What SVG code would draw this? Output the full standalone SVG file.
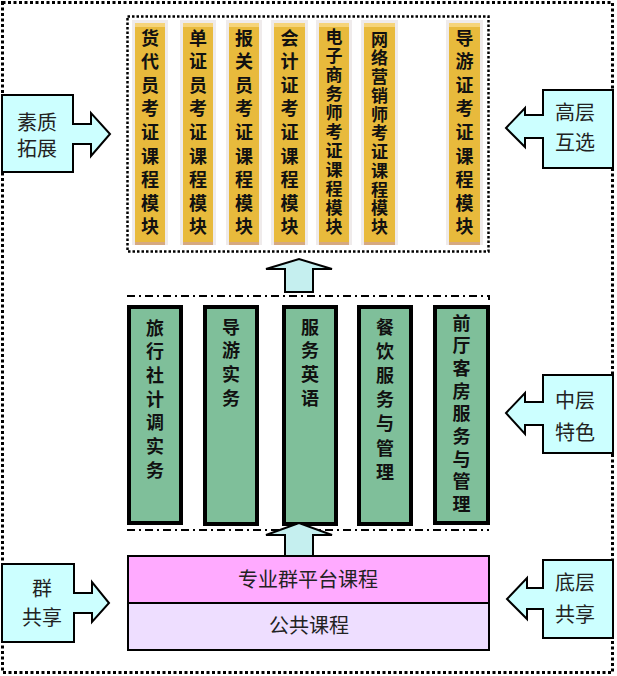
<svg xmlns="http://www.w3.org/2000/svg" width="617" height="676" viewBox="0 0 617 676">
<style>
.bg{fill:#E8BA3C}
.fr{fill:#EFEBEB}
.tp{fill:#F6D47A}
.bt{fill:#D6A981}
.yt{font-family:"Noto Sans CJK SC","Noto Sans CJK JP",sans-serif;font-size:18px;font-weight:700;fill:#111;text-anchor:middle}
.yt.s{font-size:17px}
.gb{fill:#7FBF9A;stroke:#000;stroke-width:4}
.ct{font-family:"Noto Sans CJK SC","Noto Sans CJK JP",sans-serif;font-size:20px;fill:#222;text-anchor:middle}
.co{fill:#CCFFFF;stroke:#000;stroke-width:2;stroke-linejoin:miter}
.ua{fill:#C5EFEF;stroke:#000;stroke-width:2}
.dd{fill:none;stroke:#000;stroke-width:2;stroke-dasharray:8 4 2 4}
</style>
<rect x="0" y="0" width="617" height="676" fill="#fff"/>
<rect id="outer" x="2.5" y="2.5" width="610" height="670" fill="none" stroke="#000" stroke-width="3" stroke-dasharray="3 2.5"/>

<g id="top-layer">
<rect x="127.5" y="16.5" width="361" height="235" fill="none" stroke="#000" stroke-width="2.5" stroke-dasharray="2.5 2"/>
<g id="m1"><rect class="fr" x="132" y="20" width="36" height="225"/><rect class="bg" x="135" y="23" width="30" height="219"/><rect class="tp" x="135" y="23" width="30" height="4"/><rect class="bt" x="135" y="242" width="30" height="3"/>
<text class="yt"><tspan x="150" y="44.5">货</tspan><tspan x="150" y="68.1">代</tspan><tspan x="150" y="91.7">员</tspan><tspan x="150" y="115.3">考</tspan><tspan x="150" y="138.9">证</tspan><tspan x="150" y="162.5">课</tspan><tspan x="150" y="186.1">程</tspan><tspan x="150" y="209.7">模</tspan><tspan x="150" y="233.3">块</tspan></text></g>
<g id="m2"><rect class="fr" x="180" y="20" width="36" height="225"/><rect class="bg" x="183" y="23" width="30" height="219"/><rect class="tp" x="183" y="23" width="30" height="4"/><rect class="bt" x="183" y="242" width="30" height="3"/>
<text class="yt"><tspan x="198" y="44.5">单</tspan><tspan x="198" y="68.1">证</tspan><tspan x="198" y="91.7">员</tspan><tspan x="198" y="115.3">考</tspan><tspan x="198" y="138.9">证</tspan><tspan x="198" y="162.5">课</tspan><tspan x="198" y="186.1">程</tspan><tspan x="198" y="209.7">模</tspan><tspan x="198" y="233.3">块</tspan></text></g>
<g id="m3"><rect class="fr" x="226" y="20" width="36" height="225"/><rect class="bg" x="229" y="23" width="30" height="219"/><rect class="tp" x="229" y="23" width="30" height="4"/><rect class="bt" x="229" y="242" width="30" height="3"/>
<text class="yt"><tspan x="244" y="44.5">报</tspan><tspan x="244" y="68.1">关</tspan><tspan x="244" y="91.7">员</tspan><tspan x="244" y="115.3">考</tspan><tspan x="244" y="138.9">证</tspan><tspan x="244" y="162.5">课</tspan><tspan x="244" y="186.1">程</tspan><tspan x="244" y="209.7">模</tspan><tspan x="244" y="233.3">块</tspan></text></g>
<g id="m4"><rect class="fr" x="271" y="20" width="37" height="225"/><rect class="bg" x="274" y="23" width="31" height="219"/><rect class="tp" x="274" y="23" width="31" height="4"/><rect class="bt" x="274" y="242" width="31" height="3"/>
<text class="yt"><tspan x="289.5" y="44.5">会</tspan><tspan x="289.5" y="68.1">计</tspan><tspan x="289.5" y="91.7">证</tspan><tspan x="289.5" y="115.3">考</tspan><tspan x="289.5" y="138.9">证</tspan><tspan x="289.5" y="162.5">课</tspan><tspan x="289.5" y="186.1">程</tspan><tspan x="289.5" y="209.7">模</tspan><tspan x="289.5" y="233.3">块</tspan></text></g>
<g id="m5"><rect class="fr" x="316" y="20" width="36" height="225"/><rect class="bg" x="319" y="23" width="30" height="219"/><rect class="tp" x="319" y="23" width="30" height="4"/><rect class="bt" x="319" y="242" width="30" height="3"/>
<text class="yt s"><tspan x="334" y="43">电</tspan><tspan x="334" y="62">子</tspan><tspan x="334" y="81">商</tspan><tspan x="334" y="100">务</tspan><tspan x="334" y="119">师</tspan><tspan x="334" y="138">考</tspan><tspan x="334" y="157">证</tspan><tspan x="334" y="176">课</tspan><tspan x="334" y="195">程</tspan><tspan x="334" y="214">模</tspan><tspan x="334" y="233">块</tspan></text></g>
<g id="m6"><rect class="fr" x="361" y="20" width="37" height="225"/><rect class="bg" x="364" y="23" width="31" height="219"/><rect class="tp" x="364" y="23" width="31" height="4"/><rect class="bt" x="364" y="242" width="31" height="3"/>
<text class="yt s"><tspan x="379.5" y="45.5">网</tspan><tspan x="379.5" y="64.25">络</tspan><tspan x="379.5" y="83">营</tspan><tspan x="379.5" y="101.75">销</tspan><tspan x="379.5" y="120.5">师</tspan><tspan x="379.5" y="139.25">考</tspan><tspan x="379.5" y="158">证</tspan><tspan x="379.5" y="176.75">课</tspan><tspan x="379.5" y="195.5">程</tspan><tspan x="379.5" y="214.25">模</tspan><tspan x="379.5" y="233">块</tspan></text></g>
<g id="m7"><rect class="fr" x="446" y="20" width="37" height="225"/><rect class="bg" x="449" y="23" width="31" height="219"/><rect class="tp" x="449" y="23" width="31" height="4"/><rect class="bt" x="449" y="242" width="31" height="3"/>
<text class="yt"><tspan x="464.5" y="44.5">导</tspan><tspan x="464.5" y="68.1">游</tspan><tspan x="464.5" y="91.7">证</tspan><tspan x="464.5" y="115.3">考</tspan><tspan x="464.5" y="138.9">证</tspan><tspan x="464.5" y="162.5">课</tspan><tspan x="464.5" y="186.1">程</tspan><tspan x="464.5" y="209.7">模</tspan><tspan x="464.5" y="233.3">块</tspan></text></g>
</g>

<g id="middle-layer">
<path class="dd" d="M127,296 H489 V300"/>
<path class="dd" d="M127,530 H489"/>
<g id="g1"><rect class="gb" x="129" y="307" width="52" height="216"/>
<text class="yt"><tspan x="155" y="334.5">旅</tspan><tspan x="155" y="358.2">行</tspan><tspan x="155" y="381.9">社</tspan><tspan x="155" y="405.6">计</tspan><tspan x="155" y="429.3">调</tspan><tspan x="155" y="453">实</tspan><tspan x="155" y="476.7">务</tspan></text></g>
<g id="g2"><rect class="gb" x="205" y="307" width="52" height="217"/>
<text class="yt"><tspan x="231" y="333.5">导</tspan><tspan x="231" y="357.2">游</tspan><tspan x="231" y="380.9">实</tspan><tspan x="231" y="404.6">务</tspan></text></g>
<g id="g3"><rect class="gb" x="284" y="307" width="52" height="217"/>
<text class="yt"><tspan x="310" y="333.5">服</tspan><tspan x="310" y="357.2">务</tspan><tspan x="310" y="380.9">英</tspan><tspan x="310" y="404.6">语</tspan></text></g>
<g id="g4"><rect class="gb" x="359" y="307" width="52" height="217"/>
<text class="yt"><tspan x="385" y="333.5">餐</tspan><tspan x="385" y="357.7">饮</tspan><tspan x="385" y="381.9">服</tspan><tspan x="385" y="406.1">务</tspan><tspan x="385" y="430.3">与</tspan><tspan x="385" y="454.5">管</tspan><tspan x="385" y="478.7">理</tspan></text></g>
<g id="g5"><rect class="gb" x="435" y="307" width="53" height="216"/>
<text class="yt"><tspan x="461.5" y="329.5">前</tspan><tspan x="461.5" y="352.2">厅</tspan><tspan x="461.5" y="374.9">客</tspan><tspan x="461.5" y="397.6">房</tspan><tspan x="461.5" y="420.3">服</tspan><tspan x="461.5" y="443">务</tspan><tspan x="461.5" y="465.7">与</tspan><tspan x="461.5" y="488.4">管</tspan><tspan x="461.5" y="511.1">理</tspan></text></g>
</g>

<g id="bottom-layer">
<g id="platform"><rect x="128" y="556" width="361" height="47" fill="#FFAAFF" stroke="#000" stroke-width="2"/>
<text class="ct" x="308" y="587">专业群平台课程</text></g>
<g id="public"><rect x="128" y="603" width="361" height="47" fill="#EEDEFF" stroke="#000" stroke-width="2"/>
<text class="ct" x="309" y="633">公共课程</text></g>
</g>

<g id="connectors">
<path class="ua" d="M285,292 V269 H266 L299,259 L332,269 H313 V292 Z"/>
<path class="ua" d="M285,556 V535 H266 L299,523 L332,535 H313 V556 Z"/>
</g>

<g id="c-suzhi"><path class="co" d="M2,95 H73 V124 H91 V113 L110,134 L91,156 V144 H73 V172 H2 Z"/>
<text class="ct"><tspan x="37" y="130">素质</tspan><tspan x="37" y="156">拓展</tspan></text></g>
<g id="c-qun"><path class="co" d="M2,564 H74 V593 H92 V582 L109,603 L92,622 V613 H74 V642 H2 Z"/>
<text class="ct"><tspan x="42" y="596">群</tspan><tspan x="42" y="625">共享</tspan></text></g>
<g id="c-gaoceng"><path class="co" d="M613,90 H543 V115 H525 V108 L506,128 L525,147 V138 H543 V168 H613 Z"/>
<text class="ct"><tspan x="575" y="120">高层</tspan><tspan x="575" y="150">互选</tspan></text></g>
<g id="c-zhongceng"><path class="co" d="M613,375 H543 V402 H525 V393 L506,413 L525,434 V425 H543 V453 H613 Z"/>
<text class="ct"><tspan x="575" y="408">中层</tspan><tspan x="575" y="440">特色</tspan></text></g>
<g id="c-diceng"><path class="co" d="M613,560 H543 V588 H527 V578 L507,599 L527,619 V609 H543 V638 H613 Z"/>
<text class="ct"><tspan x="575" y="590">底层</tspan><tspan x="575" y="622">共享</tspan></text></g>
</svg>
